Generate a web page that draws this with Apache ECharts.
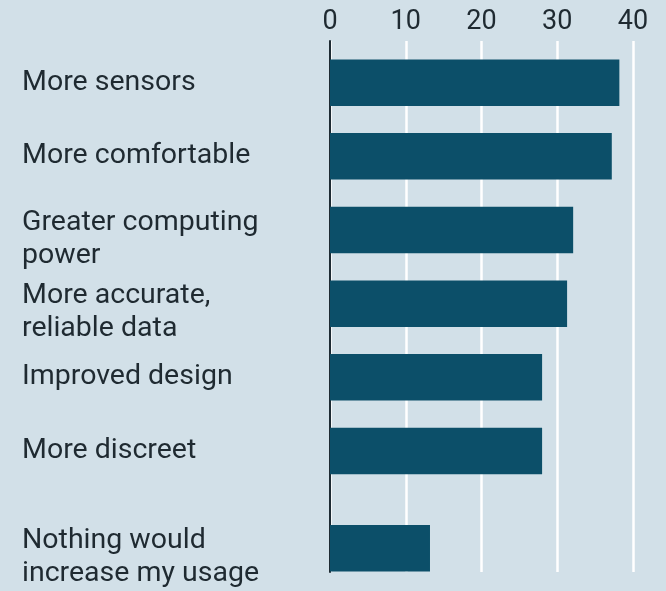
<!DOCTYPE html>
<html>
<head>
<meta charset="utf-8">
<script src="https://cdn.jsdelivr.net/npm/echarts@6/dist/echarts.min.js"></script>
<style>
  html, body { margin: 0; padding: 0; background: #d2e0e8; }
  #chart { width: 666px; height: 591px; }
</style>
</head>
<body>
<div id="chart"></div>
<script>
// Upper group of answers (share of respondents, %)
const mainCategories = [
  'More sensors',
  'More comfortable',
  'Greater computing\npower',
  'More accurate,\nreliable data',
  'Improved design',
  'More discreet'
];
const mainValues = [38.2, 37.2, 32.1, 31.3, 28.0, 28.0];

// Separate answer shown below a gap
const otherCategories = ['Nothing would\nincrease my usage'];
const otherValues = [13.2];

const tickValues = [0, 10, 20, 30, 40];

const INK = '#1f2a31';
const BAR = '#0c4f69';
const FONT = 'Roboto';

const plotLeft = 330;
const plotRight = 33;

const chart = echarts.init(document.getElementById('chart'), null, { renderer: 'canvas' });

function hiddenX(idx) {
  return {
    type: 'value', gridIndex: idx, min: tickValues[0], max: tickValues[tickValues.length - 1],
    interval: 10, show: false, splitLine: { show: false }
  };
}

// two-line labels sit a little below the bar centre: a thin empty line on top nudges them down
function labelText(name) {
  if (name.indexOf('\n') < 0) return '{t|' + name + '}';
  return '{gap|}\n' + name.split('\n').map(function (s) { return '{t|' + s + '}'; }).join('\n');
}

function catY(idx, cats) {
  return {
    type: 'category', gridIndex: idx, data: cats, inverse: true,
    axisLine: { show: false }, axisTick: { show: false }, splitLine: { show: false },
    axisLabel: {
      margin: plotLeft - 22, align: 'left', color: INK,
      fontFamily: FONT, fontSize: 28.5,
      formatter: labelText,
      rich: {
        t: { color: INK, fontFamily: FONT, fontSize: 28.5, lineHeight: 33 },
        gap: { fontSize: 1, lineHeight: 18 }
      }
    }
  };
}

chart.setOption({
  backgroundColor: '#d2e0e8',
  animation: false,
  grid: [
    // background frame: ticks on top, white gridlines, zero line
    { left: plotLeft, right: plotRight, top: 41, bottom: 19 },
    // main group of bars
    { left: plotLeft, right: plotRight, top: 45.8, height: 442 },
    // final bar below the gap
    { left: plotLeft, right: plotRight, top: 511.5, height: 73.7 }
  ],
  xAxis: [
    {
      type: 'value', gridIndex: 0, position: 'top',
      min: tickValues[0], max: tickValues[tickValues.length - 1], interval: 10,
      axisLine: { show: false }, axisTick: { show: false },
      axisLabel: { color: INK, fontFamily: FONT, fontSize: 27, margin: 5 },
      splitLine: { show: true, lineStyle: { color: '#ffffff', width: 2.5 } }
    },
    hiddenX(1),
    hiddenX(2)
  ],
  yAxis: [
    {
      type: 'value', gridIndex: 0, min: 0, max: 1,
      axisLine: { show: true, lineStyle: { color: '#1e2b33', width: 2 } },
      axisTick: { show: false }, axisLabel: { show: false }, splitLine: { show: false }
    },
    catY(1, mainCategories),
    catY(2, otherCategories)
  ],
  series: [
    {
      type: 'bar', xAxisIndex: 1, yAxisIndex: 1, data: mainValues,
      barWidth: 46.5, itemStyle: { color: BAR }, z: 3
    },
    {
      type: 'bar', xAxisIndex: 2, yAxisIndex: 2, data: otherValues,
      barWidth: 46.5, itemStyle: { color: BAR }, z: 3
    }
  ]
});
</script>
</body>
</html>
